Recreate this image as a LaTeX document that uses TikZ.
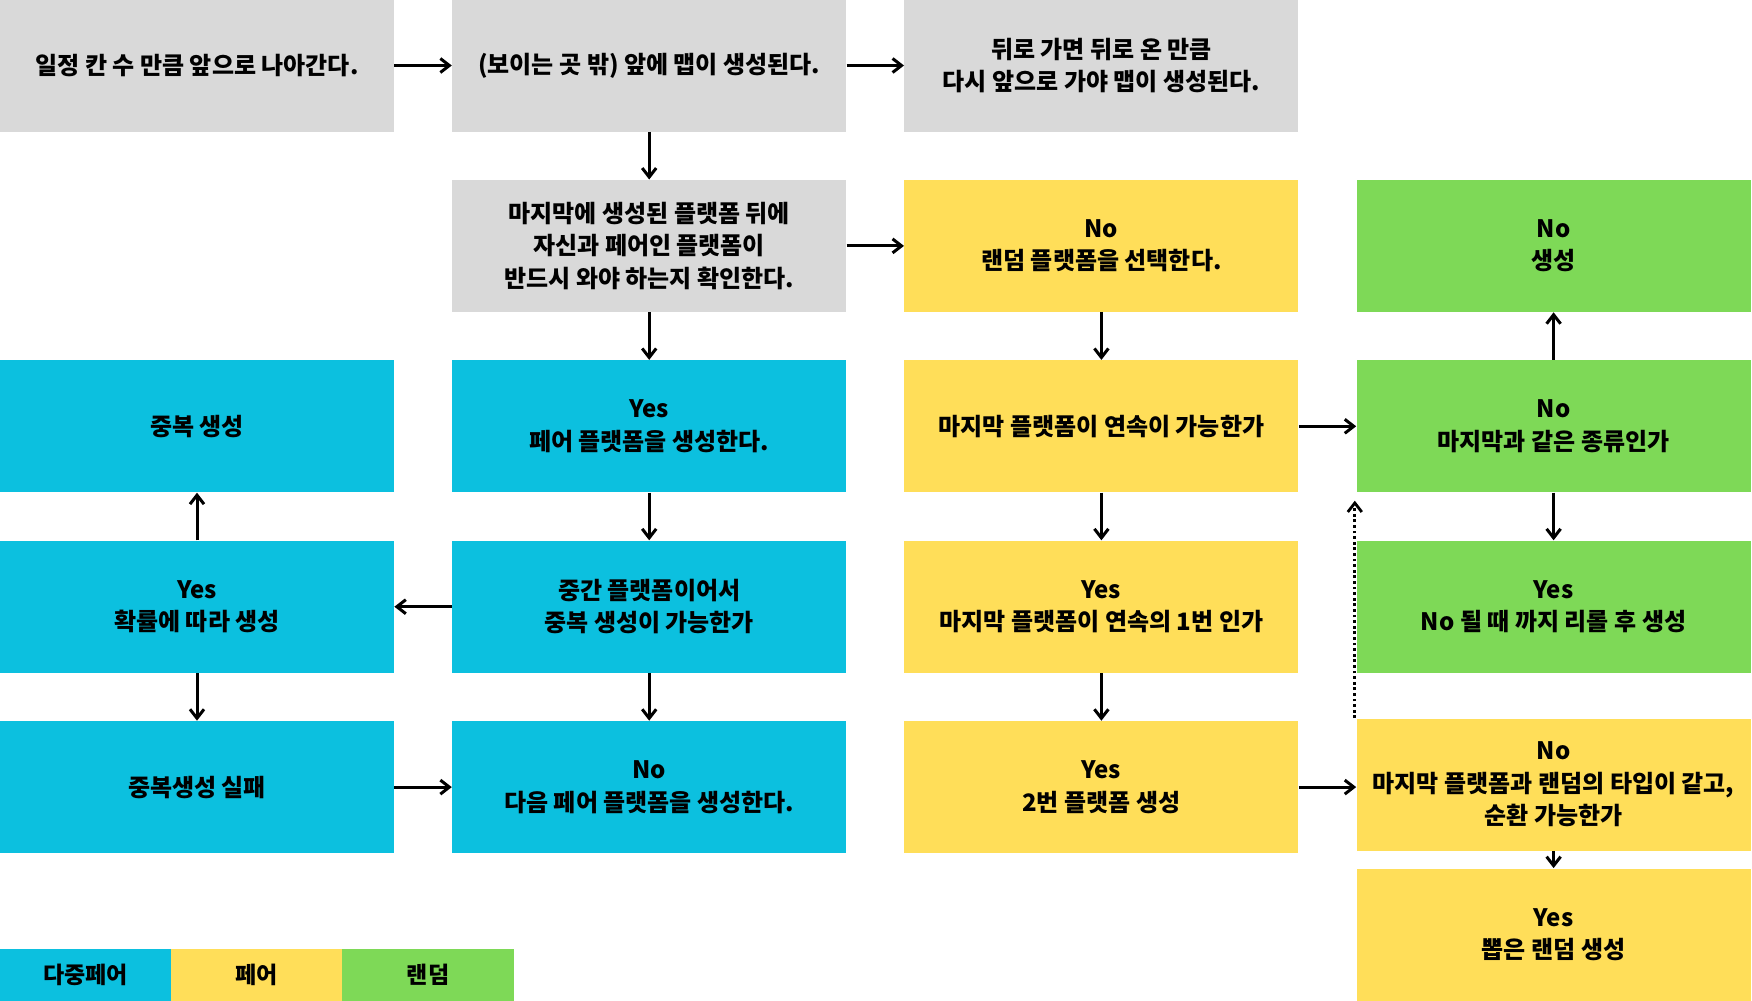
\documentclass[tikz,border=0pt]{standalone}
\usepackage{fontspec}
\setmainfont{Noto Sans CJK KR}
\usepackage{xcolor}
\usetikzlibrary{arrows.meta}
\usetikzlibrary{math}
\definecolor{mygray}{HTML}{D9D9D9}
\definecolor{mycyan}{HTML}{0CC0DF}
\definecolor{myyellow}{HTML}{FFDE59}
\definecolor{mygreen}{HTML}{7ED957}

\begin{document}
\begin{tikzpicture}[x=0.5pt,y=-0.5pt,
box/.style={minimum width=197pt, minimum height=66pt, inner sep=0pt, align=center,
  font=\bfseries\fontsize{12}{16.25}\selectfont},
legend/.style={minimum width=85.6pt, minimum height=26pt, inner sep=0pt,
  font=\bfseries\fontsize{11.5}{12}\selectfont},
flow/.style={line width=1.5pt, -{Straight Barb[length=4.5pt,width=7pt]}}]
\tikzmath{
\bx=197;
\by=65.5;
\dx=452.2;
\dy=180.4;
}
\useasboundingbox (0,0) rectangle (1752,1001);
%row 1
\node[box, fill=mygray] (move) at (\bx,\by) {일정 칸 수 만큼 앞으로 나아간다.};
\node[box, fill=mygray] (spawn) at (\bx+\dx,\by) {(보이는 곳 밖) 앞에 맵이 생성된다.};
\node[box, fill=mygray] (back) at (\bx+2*\dx,\by) {뒤로 가면 뒤로 온 만큼\\다시 앞으로 가야 맵이 생성된다.};
%row 2
\node[box, fill=mygray] (check) at (\bx+\dx,\by+\dy) {마지막에 생성된 플랫폼 뒤에\\자신과 페어인 플랫폼이\\반드시 와야 하는지 확인한다.};
\node[box, fill=myyellow] (pick) at (\bx+2*\dx,\by+\dy) {No\\랜덤 플랫폼을 선택한다.};
\node[box, fill=mygreen] (nogen) at (\bx+3*\dx,\by+\dy) {No\\생성};
%row 3
\node[box, fill=mycyan] (dup) at (\bx,\by+2*\dy) {중복 생성};
\node[box, fill=mycyan] (pair) at (\bx+\dx,\by+2*\dy) {Yes\\페어 플랫폼을 생성한다.};
\node[box, fill=myyellow] (cont) at (\bx+2*\dx,\by+2*\dy) {마지막 플랫폼이 연속이 가능한가};
\node[box, fill=mygreen] (same) at (\bx+3*\dx,\by+2*\dy) {No\\마지막과 같은 종류인가};
%row 4
\node[box, fill=mycyan] (chance) at (\bx,\by+3*\dy) {Yes\\확률에 따라 생성};
\node[box, fill=mycyan] (mid) at (\bx+\dx,\by+3*\dy) {중간 플랫폼이어서\\중복 생성이 가능한가};
\node[box, fill=myyellow] (first) at (\bx+2*\dx,\by+3*\dy) {Yes\\마지막 플랫폼이 연속의 1번 인가};
\node[box, fill=mygreen] (retry) at (\bx+3*\dx,\by+3*\dy) {Yes\\No 될 때 까지 리롤 후 생성};
%row 5
\node[box, fill=mycyan] (fail) at (\bx,\by+4*\dy) {중복생성 실패};
\node[box, fill=mycyan] (next) at (\bx+\dx,\by+4*\dy) {No\\다음 페어 플랫폼을 생성한다.};
\node[box, fill=myyellow] (second) at (\bx+2*\dx,\by+4*\dy) {Yes\\2번 플랫폼 생성};
\node[box, fill=myyellow] (cycle) at (\bx+3*\dx,784.5) {No\\마지막 플랫폼과 랜덤의 타입이 같고,\\순환 가능한가};
\node[box, fill=myyellow] (picked) at (\bx+3*\dx,934.5) {Yes\\뽑은 랜덤 생성};
%legend
\node[legend, fill=mycyan] (lgmulti) at (85.6,974.5) {다중페어};
\node[legend, fill=myyellow] (lgpair) at (256.8,974.5) {페어};
\node[legend, fill=mygreen] (lgrand) at (428,974.5) {랜덤};

%arrows
\draw[flow] (move) -- (spawn);
\draw[flow] (spawn) -- (back);
\draw[flow] (spawn) -- (check);
\draw[flow] (check) -- (pick);
\draw[flow] (check) -- (pair);
\draw[flow] (pick) -- (cont);
\draw[flow] (cont) -- (same);
\draw[flow] (same) -- (nogen);
\draw[flow] (same) -- (retry);
\draw[flow] (cont) -- (first);
\draw[flow] (first) -- (second);
\draw[flow] (second.east) -- (second.east -| cycle.west);
\draw[flow] (cycle) -- (picked);
\draw[flow] (pair) -- (mid);
\draw[flow] (mid) -- (chance);
\draw[flow] (chance) -- (dup);
\draw[flow] (chance) -- (fail);
\draw[flow] (fail) -- (next);
\draw[flow] (mid) -- (next);
%loop back
\coordinate (looptip) at ([yshift=-4pt]same.south west);
\draw[flow, line width=1.4pt, dash pattern=on 1.4pt off 1.4pt] ([xshift=-0.7pt]cycle.north west) -- ([xshift=-0.7pt]looptip);
\end{tikzpicture}
\end{document}
